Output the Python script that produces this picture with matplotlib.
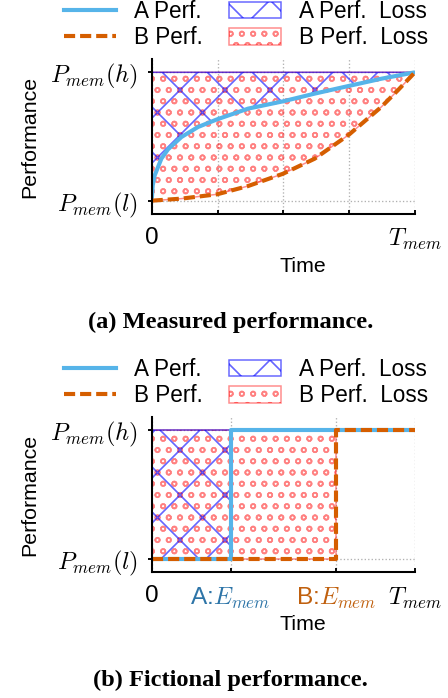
import matplotlib.pyplot as plt
from matplotlib.lines import Line2D
from matplotlib.patches import Patch

plt.rcParams['font.family'] = ['Liberation Sans', 'DejaVu Sans']
plt.rcParams['mathtext.fontset'] = 'cm'
plt.rcParams['hatch.linewidth'] = 0.45

DPI = 270

# %% data
# (a) measured performance, normalised time vs normalised performance
meas_time_a = [0, 0.004, 0.0114, 0.0367, 0.062, 0.113, 0.176, 0.249, 0.366,
               0.499, 0.619, 0.749, 0.872, 1.0]
meas_perf_a = [0, 0.12, 0.197, 0.327, 0.40, 0.496, 0.574, 0.634, 0.717,
               0.774, 0.834, 0.894, 0.95, 1.0]
meas_time_b = [0, 0.113, 0.249, 0.366, 0.499, 0.619, 0.749, 0.872, 0.935, 1.0]
meas_perf_b = [0, 0.016, 0.05, 0.114, 0.21, 0.327, 0.514, 0.73, 0.86, 1.0]

# (b) fictional performance: instant switch at E_mem
e_mem_a = 0.3
e_mem_b = 0.7
fict_time_a = [0, e_mem_a, e_mem_a, 1.0]
fict_perf_a = [0, 0, 1, 1]
fict_time_b = [0, e_mem_b, e_mem_b, 1.0]
fict_perf_b = [0, 0, 1, 1]

yticks = [0, 1]
ytick_labels = ['$P_{mem}(l)$', '$P_{mem}(h)$']
meas_xticks = [0, 0.25, 0.5, 0.75, 1.0]
meas_xtick_labels = ['0', '', '', '', '$T_{mem}$']
fict_xticks = [0, e_mem_a, e_mem_b, 1.0]
fict_xtick_labels = ['0', 'A:$E_{mem}$', 'B:$E_{mem}$', '$T_{mem}$']

# %% styles
c_a = '#56B4E9'
c_b = '#D55E00'
c_hatch_a = (0.0, 0.0, 1.0, 0.6)
c_hatch_b = (1.0, 0.0, 0.0, 0.45)
hatch_a = 'xx'
hatch_b = 'oooo'
fs_tick = 6.5
fs_label = 5.7
fs_leg = 6.0
lw = 1.1


def draw_panel(ax, xa, ya, xb, yb, xticks, xlabels, xlabel_y):
    ax.fill_between(xb, yb, 1, facecolor='none', edgecolor=c_hatch_b,
                    hatch=hatch_b, linewidth=0.4)
    ax.fill_between(xa, ya, 1, facecolor='none', edgecolor=c_hatch_a,
                    hatch=hatch_a, linewidth=0.4)
    ax.plot(xa, ya, color=c_a, lw=lw, solid_capstyle='butt')
    ax.plot(xb, yb, color=c_b, lw=lw, dashes=(2.7, 1.2))

    ax.set_xlim(0, 1)
    ax.set_ylim(-0.1, 1.1)
    ax.set_xticks(xticks)
    ax.set_xticklabels(xlabels, fontsize=fs_tick)
    ax.set_yticks(yticks)
    ax.set_yticklabels(ytick_labels, fontsize=fs_tick)
    ax.tick_params(axis='x', direction='in', length=1.1, width=0.5, pad=3.5)
    ax.tick_params(axis='y', direction='out', length=1.1, width=0.5, pad=2.5)
    ax.grid(True, linestyle=':', color='#b0b0b0', linewidth=0.35)
    ax.set_axisbelow(True)
    for s in ['top', 'right']:
        ax.spines[s].set_visible(False)
    for s in ['left', 'bottom']:
        ax.spines[s].set_linewidth(0.55)
    ax.set_xlabel('Time', fontsize=fs_label)
    ax.xaxis.set_label_coords(0.575, xlabel_y)
    ax.set_ylabel('Performance', fontsize=fs_label, labelpad=3.0)


def add_legend(fig, y):
    handles = [
        Line2D([], [], color=c_a, lw=lw),
        Line2D([], [], color=c_b, lw=lw, dashes=(2.7, 1.2)),
        Patch(facecolor='none', edgecolor=c_hatch_a, hatch=hatch_a, linewidth=0.4),
        Patch(facecolor='none', edgecolor=c_hatch_b, hatch=hatch_b, linewidth=0.4),
    ]
    labels = ['A Perf.', 'B Perf.', 'A Perf.  Loss', 'B Perf.  Loss']
    fig.legend(handles, labels, ncol=2, loc='center', bbox_to_anchor=(0.549, y),
               frameon=False, fontsize=fs_leg, handlelength=2.3, handleheight=0.75,
               handletextpad=0.8, columnspacing=1.2, labelspacing=0.15,
               borderpad=0, borderaxespad=0)


fig = plt.figure(figsize=(448 / DPI, 698 / DPI), dpi=DPI)

ax1 = fig.add_axes([0.3386, 0.6941, 0.5877, 0.2207])
draw_panel(ax1, meas_time_a, meas_perf_a, meas_time_b, meas_perf_b,
           meas_xticks, meas_xtick_labels, -0.285)
add_legend(fig, 0.9646)
fig.text(0.515, 1 - 322 / 698, '(a) Measured performance.', ha='center', va='center',
         fontsize=6.5, fontweight='bold', family='Liberation Serif')

ax2 = fig.add_axes([0.3386, 0.1801, 0.5877, 0.2225])
draw_panel(ax2, fict_time_a, fict_perf_a, fict_time_b, fict_perf_b,
           fict_xticks, fict_xtick_labels, -0.275)
ax2.get_xticklabels()[1].set_color('#2E75A8')
ax2.get_xticklabels()[2].set_color('#C0600E')
add_legend(fig, 0.4516)
fig.text(0.515, 1 - 680 / 698, '(b) Fictional performance.', ha='center', va='center',
         fontsize=6.5, fontweight='bold', family='Liberation Serif')

fig.savefig('out.png', dpi=DPI)
